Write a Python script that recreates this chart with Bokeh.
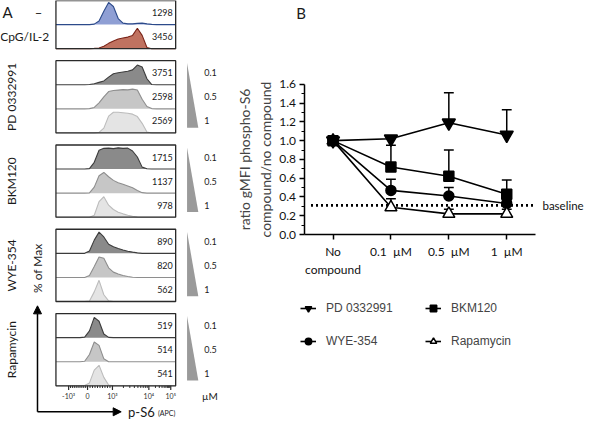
import numpy as np
from bokeh.plotting import figure
from bokeh.layouts import row
from bokeh.models import (Range1d, FixedTicker, NumeralTickFormatter, Legend, LegendItem,
                          Label, Arrow, NormalHead)
from bokeh.core.properties import value
from bokeh.embed import file_html
from bokeh.resources import INLINE

# ---------------- Panel B data ----------------
CONDITIONS = ["No\ncompound", "0.1\u00a0 µM", "0.5\u00a0 µM", "1\u00a0 µM"]
X_POS = [0.5, 1.5, 2.5, 3.5]
PD_MEAN = [1.00, 1.02, 1.19, 1.06]
PD_UPPER = [1.00, 1.02, 1.51, 1.33]
BKM_MEAN = [1.00, 0.72, 0.62, 0.43]
BKM_UPPER = [1.00, 0.95, 0.90, 0.58]
WYE_MEAN = [1.00, 0.47, 0.41, 0.33]
WYE_UPPER = [1.00, 0.59, 0.50, 0.36]
RAP_MEAN = [1.00, 0.29, 0.22, 0.22]
RAP_UPPER = [1.00, 0.38, 0.27, 0.27]
BASELINE = 0.31
Y_TICKS = [0.0, 0.2, 0.4, 0.6, 0.8, 1.0, 1.2, 1.4, 1.6]
Y_MINOR = [0.1, 0.3, 0.5, 0.7, 0.9, 1.1, 1.3, 1.5]

# ---------------- Panel A data (histograms, % of max per channel) ----------------
CHANNEL = [0, 40, 80, 120, 160, 200, 240, 280, 320, 360, 400, 440, 480,
           520, 560, 600, 640, 680, 720, 760, 800, 840, 880, 920, 960, 1000]
HIST_UNSTIM = [0, 0, 0, 0, 0, 0, 0, 0, 2, 15, 55, 92, 75, 25, 6, 3, 3, 5, 6, 3, 1, 0, 0, 0, 0, 0]
HIST_CPG = [0, 0, 0, 0, 0, 0, 0, 0, 1, 3, 10, 22, 32, 40, 44, 48, 55, 85, 55, 5, 0, 0, 0, 0, 0, 0]
HIST_PD = [
    [0, 0, 0, 0, 0, 0, 0, 1, 4, 10, 16, 32, 46, 50, 53, 56, 62, 82, 74, 25, 1, 0, 0, 0, 0, 0],
    [0, 0, 0, 0, 0, 0, 0, 1, 6, 25, 50, 72, 76, 78, 80, 79, 82, 78, 40, 10, 1, 0, 0, 0, 0, 0],
    [0, 0, 0, 0, 0, 0, 0, 0, 0, 2, 20, 70, 86, 86, 84, 82, 78, 68, 40, 4, 0, 0, 0, 0, 0, 0],
]
HIST_BKM = [
    [0, 0, 0, 0, 0, 0, 0, 2, 28, 78, 86, 87, 85, 88, 86, 87, 75, 50, 8, 1, 0, 0, 0, 0, 0, 0],
    [0, 0, 0, 0, 0, 0, 0, 1, 25, 72, 86, 68, 53, 43, 37, 30, 22, 11, 2, 0, 0, 0, 0, 0, 0, 0],
    [0, 0, 0, 0, 0, 0, 0, 0, 8, 65, 85, 50, 32, 21, 14, 8, 4, 1, 0, 0, 0, 0, 0, 0, 0, 0],
]
HIST_WYE = [
    [0, 0, 0, 0, 0, 0, 0, 10, 55, 88, 68, 38, 27, 20, 14, 9, 5, 2, 0, 0, 0, 0, 0, 0, 0, 0],
    [0, 0, 0, 0, 0, 0, 0, 8, 45, 85, 80, 40, 22, 14, 8, 4, 1, 0, 0, 0, 0, 0, 0, 0, 0, 0],
    [0, 0, 0, 0, 0, 0, 0, 2, 40, 88, 28, 3, 0, 0, 0, 0, 0, 0, 0, 0, 0, 0, 0, 0, 0, 0],
]
HIST_RAP = [
    [0, 0, 0, 0, 0, 0, 2, 28, 84, 68, 15, 1, 0, 0, 0, 0, 0, 0, 0, 0, 0, 0, 0, 0, 0, 0],
    [0, 0, 0, 0, 0, 0, 2, 30, 82, 68, 12, 0, 0, 0, 0, 0, 0, 0, 0, 0, 0, 0, 0, 0, 0, 0],
    [0, 0, 0, 0, 0, 0, 1, 12, 65, 85, 35, 3, 0, 0, 0, 0, 0, 0, 0, 0, 0, 0, 0, 0, 0, 0],
]
MFI_CTRL = [1298, 3456]
MFI_PD = [3751, 2598, 2569]
MFI_BKM = [1715, 1137, 978]
MFI_WYE = [890, 820, 562]
MFI_RAP = [519, 514, 541]
CTRL_LABELS = ["\u2013", "CpG/IL-2"]
GROUP_NAMES = ["PD 0332991", "BKM120", "WYE-354", "Rapamycin"]
DOSES = ["0.1", "0.5", "1"]
AXIS_TICK_LABELS = ["-10\u00b3", "0", "10\u00b3", "10\u2074", "10\u2075"]
AXIS_TICK_POS = [106, 264, 472, 776, 959]

# ---------------- styles ----------------
FONT = "Lato"
CTRL_FILLS = ["#8f9fd4", "#c07260"]
CTRL_LINES = ["#2c4a8a", "#7a2418"]
DOSE_FILLS = ["#8a8a8a", "#c6c6c6", "#e4e4e4"]
DOSE_LINES = ["#3c3c3c", "#8e8e8e", "#bcbcbc"]

# ================= Panel A =================
pa = figure(width=236, height=419, x_range=Range1d(-463, 1508), y_range=Range1d(0, 17.4),
            output_backend="svg", toolbar_location=None, min_border=0,
            x_axis_type=None, y_axis_type=None)
pa.grid.visible = False
pa.outline_line_color = None
pa.background_fill_color = "white"

ROW = 1.0
GAP = 0.5
CH_MIN, CH_MAX = CHANNEL[0], CHANNEL[-1]


def txt(fig, x, y, t, size, align="left", baseline="middle", angle=0.0, color="#1a1a1a", font=FONT):
    fig.text(x=x, y=y, text=t, text_font=value(font), text_font_size=size,
             text_align=align, text_baseline=baseline, angle=angle, text_color=color)


def draw_group(top, hists, fills, lines, mfis):
    n = len(hists)
    for i, (h, fc, lc, m) in enumerate(zip(hists, fills, lines, mfis)):
        base = top - (i + 1) * ROW
        y2 = base + np.array(h, dtype=float) / 100.0 * ROW
        pa.varea(x=CHANNEL, y1=base, y2=y2, fill_color=fc)
        pa.line(x=CHANNEL, y=y2, line_color=lc, line_width=1.1)
        txt(pa, [976], [base + 0.5 * ROW], [str(m)], "9px", align="right")
    bottom = top - n * ROW
    pa.quad(left=[CH_MIN], right=[CH_MAX], top=[top], bottom=[bottom],
            fill_color=None, line_color="#2a2a2a", line_width=1.3)
    return bottom


top = 17.4
b = draw_group(top, [HIST_UNSTIM, HIST_CPG], CTRL_FILLS, CTRL_LINES, MFI_CTRL)
txt(pa, [-146], [top - 0.5], [CTRL_LABELS[0]], "13px", align="center")
txt(pa, [-57], [top - 1.5], [CTRL_LABELS[1]], "12px", align="right")

top = b - GAP
last_bottom = b
for name, hists, mfis in zip(GROUP_NAMES, [HIST_PD, HIST_BKM, HIST_WYE, HIST_RAP],
                             [MFI_PD, MFI_BKM, MFI_WYE, MFI_RAP]):
    b = draw_group(top, hists, DOSE_FILLS, DOSE_LINES, mfis)
    pa.patch(x=[1095, 1095, 1189], y=[top - 0.1, b + 0.22, b + 0.22],
             fill_color="#9a9a9a", line_color=None)
    txt(pa, [1238] * 3, [top - 0.5, top - 1.5, top - 2.5], DOSES, "9px")
    txt(pa, [-374], [(top + b) / 2], [name], "12px", align="center", angle=np.pi / 2)
    last_bottom = b
    top = b - GAP

# flow axis ticks below the rapamycin box
minor = ([AXIS_TICK_POS[0] + (AXIS_TICK_POS[1] - AXIS_TICK_POS[0]) * k / 10 for k in range(1, 10)] +
         [AXIS_TICK_POS[1] + (AXIS_TICK_POS[2] - AXIS_TICK_POS[1]) * k / 10 for k in range(1, 10)] +
         [AXIS_TICK_POS[2] + (AXIS_TICK_POS[3] - AXIS_TICK_POS[2]) * np.log10(k) for k in range(2, 10)] +
         [AXIS_TICK_POS[3] + (AXIS_TICK_POS[4] - AXIS_TICK_POS[3]) * np.log10(k) for k in range(2, 10)])
pa.segment(x0=minor, y0=[last_bottom] * len(minor), x1=minor, y1=[last_bottom - 0.09] * len(minor),
           line_color="#2a2a2a", line_width=1)
pa.segment(x0=AXIS_TICK_POS, y0=[last_bottom] * 5, x1=AXIS_TICK_POS, y1=[last_bottom - 0.17] * 5,
           line_color="#2a2a2a", line_width=1.2)
txt(pa, AXIS_TICK_POS, [last_bottom - 0.42] * 5, AXIS_TICK_LABELS, "7px", align="center", color="#333333")
txt(pa, [1220], [last_bottom - 0.42], ["µM"], "10px")

pa.add_layout(Arrow(end=NormalHead(size=8, fill_color="black", line_color="black"),
                    x_start=-154, y_start=0.32, x_end=-154, y_end=4.72,
                    line_width=1.5, line_color="black"))
pa.add_layout(Arrow(end=NormalHead(size=8, fill_color="black", line_color="black"),
                    x_start=-154, y_start=0.32, x_end=545, y_end=0.32,
                    line_width=1.5, line_color="black"))
txt(pa, [-154], [6.28], ["% of Max"], "12px", align="center", angle=np.pi / 2)
txt(pa, [602], [0.32], ["p-S6"], "13px")
txt(pa, [852], [0.28], ["(APC)"], "7px")
txt(pa, [-447], [17.28], ["A"], "15px", baseline="top")

# ================= Panel B =================
# frame covers the whole canvas; axes are pinned at x=0 / y=0 and bounded to the data area
pb = figure(width=348, height=419, x_range=Range1d(-1.167, 4.843), y_range=Range1d(-1.970, 2.4925),
            output_backend="svg", toolbar_location=None, min_border=0)
pb.grid.visible = False
pb.outline_line_color = None

for ax in [pb.xaxis[0], pb.yaxis[0]]:
    ax.fixed_location = 0
    ax.axis_line_width = 1.5
    ax.axis_line_color = "black"
    ax.major_tick_line_width = 1.5
    ax.major_tick_line_color = "black"
    ax.major_tick_in = 0
    ax.major_tick_out = 5
    ax.major_label_text_font = FONT
    ax.major_label_text_font_size = "12px"
    ax.major_label_text_color = "#111111"

pb.xaxis.bounds = (0, 4)
pb.xaxis.ticker = FixedTicker(ticks=X_POS)
pb.xaxis.major_label_overrides = {x: lab for x, lab in zip(X_POS, CONDITIONS)}
pb.xaxis.minor_tick_line_color = None
pb.xaxis.major_label_standoff = 4

pb.yaxis.bounds = (0, 1.6)
pb.yaxis.ticker = FixedTicker(ticks=Y_TICKS, minor_ticks=Y_MINOR)
pb.yaxis.formatter = NumeralTickFormatter(format="0.0")
pb.yaxis.minor_tick_in = 0
pb.yaxis.minor_tick_out = 3
pb.yaxis.minor_tick_line_width = 1.2
pb.yaxis.minor_tick_line_color = "black"
pb.yaxis.major_label_standoff = 3
pb.yaxis.axis_label = "ratio gMFI phospho-S6\ncompound/no compound"
pb.yaxis.axis_label_text_font = FONT
pb.yaxis.axis_label_text_font_size = "14px"
pb.yaxis.axis_label_text_font_style = "normal"
pb.yaxis.axis_label_standoff = 3

# baseline reference
pb.line(x=[0.12, 3.97], y=[BASELINE, BASELINE], line_color="black", line_width=2.6, line_dash="2 3")
pb.add_layout(Label(x=4.117, y=BASELINE, text="baseline", text_font=FONT, text_font_size="11.5px",
                    text_baseline="middle", text_align="left", text_color="#111111"))

series = [
    ("PD 0332991", PD_MEAN, PD_UPPER, "inverted_triangle", 13, "black"),
    ("WYE-354", WYE_MEAN, WYE_UPPER, "circle", 10, "black"),
    ("Rapamycin", RAP_MEAN, RAP_UPPER, "triangle", 12, "white"),
    ("BKM120", BKM_MEAN, BKM_UPPER, "square", 10, "black"),
]
renderers = {}
lines_r = {}
for name, mean, up, marker, size, fill in series:
    lines_r[name] = pb.line(x=X_POS, y=mean, line_color="black", line_width=1.6)
CAP = 0.085
for name, mean, up, marker, size, fill in series:
    xs = [x for x, m, u in zip(X_POS, mean, up) if u > m]
    ms = [m for m, u in zip(mean, up) if u > m]
    us = [u for m, u in zip(mean, up) if u > m]
    pb.segment(x0=xs, y0=ms, x1=xs, y1=us, line_color="black", line_width=1.5)
    pb.segment(x0=[x - CAP for x in xs], y0=us, x1=[x + CAP for x in xs], y1=us,
               line_color="black", line_width=1.5)
for name, mean, up, marker, size, fill in series:
    renderers[name] = pb.scatter(x=X_POS, y=mean, marker=marker, size=size, fill_color=fill,
                                 line_color="black", line_width=1.5)

order = ["PD 0332991", "BKM120", "WYE-354", "Rapamycin"]
items = [LegendItem(label=n, renderers=[lines_r[n], renderers[n]]) for n in order]
legend = Legend(items=items, location=(64, 68), orientation="horizontal", ncols=2,
                glyph_width=16, glyph_height=20, label_height=20, label_standoff=10,
                label_width=86, spacing=13, padding=0, margin=0,
                border_line_color=None, background_fill_alpha=0,
                label_text_font="Liberation Sans", label_text_font_size="12px")
pb.add_layout(legend, "center")

pb.add_layout(Label(x=-0.135, y=2.4515, text="B", text_font=FONT, text_font_size="15px",
                    text_baseline="top", text_align="left", text_color="#1a1a1a"))

layout = row(pa, pb)
open("out.html", "w").write(file_html(layout, INLINE))
